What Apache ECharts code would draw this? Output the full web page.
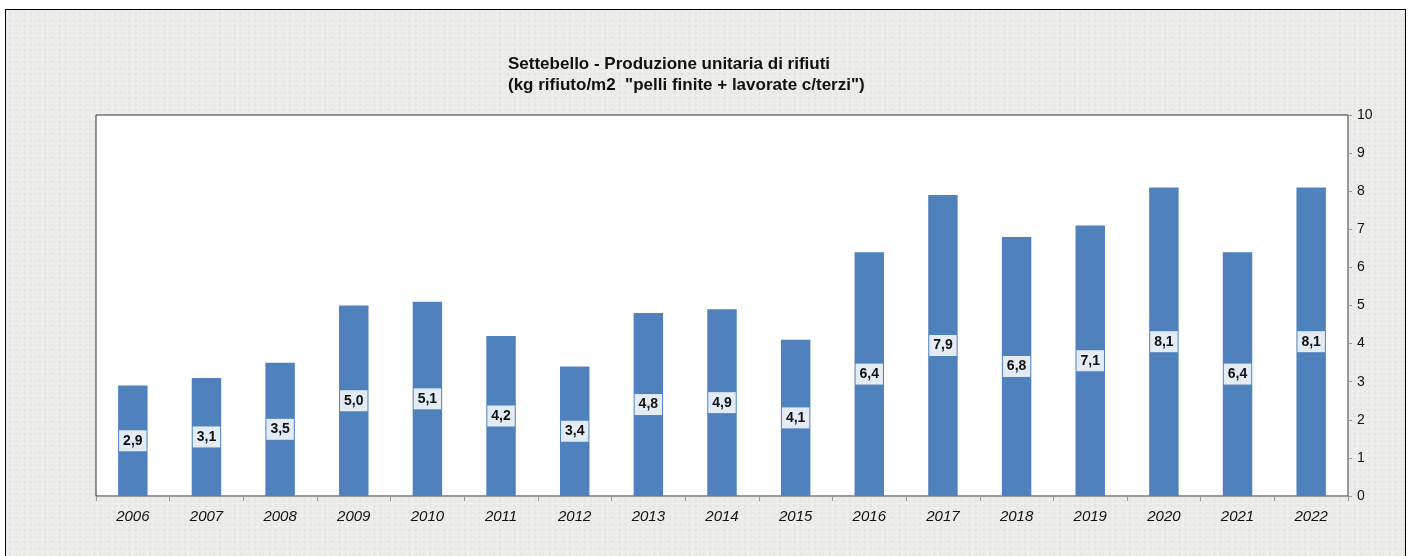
<!DOCTYPE html>
<html>
<head>
<meta charset="utf-8">
<style>
  html, body { margin: 0; padding: 0; background: #fff; overflow: hidden; }
  #frame {
    position: absolute; left: 5px; top: 9px; width: 1399px; height: 560px;
    border: 1px solid #000; border-bottom: none;
    background-color: #ebebe9;
    background-image:
      radial-gradient(circle at 30% 40%, rgba(255,255,255,0.45) 0, rgba(255,255,255,0) 1.5px),
      radial-gradient(circle at 60% 70%, rgba(200,200,200,0.3) 0, rgba(200,200,200,0) 2px);
    background-size: 5px 4px, 7px 6px;
  }
  #chart { position: absolute; left: 0; top: 0; width: 1413px; height: 556px; }
</style>
<script src="https://cdn.jsdelivr.net/npm/echarts@6/dist/echarts.min.js"></script>
</head>
<body>
<div id="frame"></div>
<div id="chart"></div>
<script>
// dati
const anni = ['2006', '2007', '2008', '2009', '2010', '2011', '2012', '2013', '2014',
              '2015', '2016', '2017', '2018', '2019', '2020', '2021', '2022'];
const valori = [2.9, 3.1, 3.5, 5.0, 5.1, 4.2, 3.4, 4.8, 4.9, 4.1, 6.4, 7.9, 6.8, 7.1, 8.1, 6.4, 8.1];
const titolo = 'Settebello - Produzione unitaria di rifiuti\n(kg rifiuto/m2  "pelli finite + lavorate c/terzi")';

let myChart = echarts.init(document.getElementById('chart'));
myChart.setOption({
    animation: false,
    textStyle: { fontFamily: 'Liberation Sans, Arial, sans-serif' },
    title: {
        text: titolo,
        left: 503,
        top: 49,
        textStyle: {
            fontSize: 17,
            fontWeight: 'bold',
            color: '#111',
            lineHeight: 21
        }
    },
    grid: {
        left: 96,
        right: 65,
        top: 115,
        bottom: 60,
        show: true,
        backgroundColor: '#fff',
        borderColor: '#333',
        borderWidth: 1
    },
    xAxis: {
        type: 'category',
        data: anni,
        axisLine: { lineStyle: { color: '#999' } },
        axisTick: { show: true, length: 5, lineStyle: { color: '#999' } },
        axisLabel: {
            fontStyle: 'italic',
            fontSize: 15,
            color: '#111',
            margin: 13
        }
    },
    yAxis: {
        type: 'value',
        position: 'right',
        min: 0,
        max: 10,
        interval: 1,
        splitLine: { show: false },
        axisLine: { show: true, lineStyle: { color: '#999' } },
        axisTick: { show: true, length: 4, lineStyle: { color: '#999' } },
        axisLabel: { fontSize: 14, color: '#111', margin: 9 }
    },
    series: [
        {
            type: 'bar',
            data: valori,
            barWidth: '40%',
            itemStyle: { color: '#4f81bd' },
            label: {
                show: true,
                position: 'inside',
                fontSize: 14,
                fontWeight: 'bold',
                color: '#111',
                backgroundColor: '#e3ebf5',
                padding: [4, 4, 3, 4],
                formatter: function (p) {
                    return p.value.toFixed(1).replace('.', ',');
                }
            }
        }
    ]
});
</script>
</body>
</html>
